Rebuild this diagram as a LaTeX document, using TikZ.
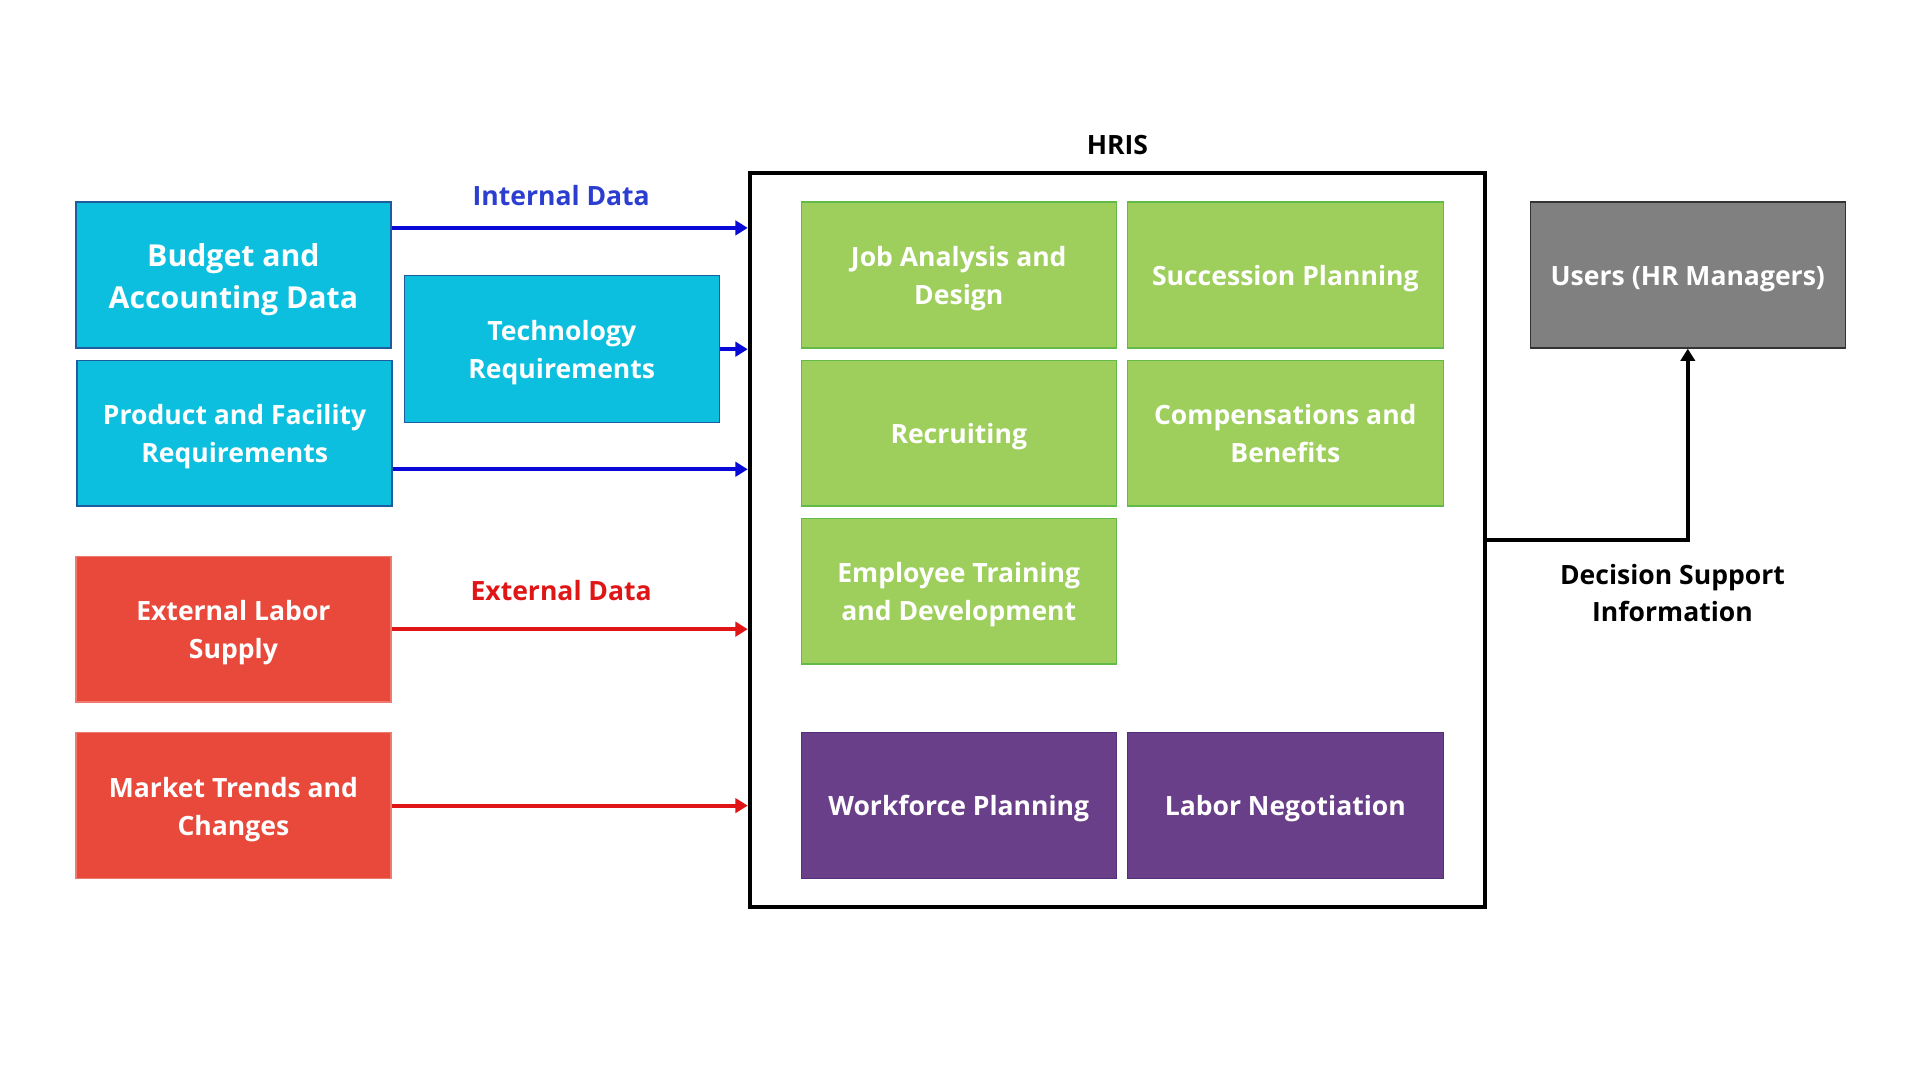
\documentclass[tikz,border=0pt]{standalone}
\usepackage{fontspec}
\setmainfont{Open Sans}
\usetikzlibrary{arrows.meta,calc}
\definecolor{cyanbox}{HTML}{0CBFDF}
\definecolor{cyanedge}{HTML}{1E5C9E}
\definecolor{redbox}{HTML}{E9493B}
\definecolor{rededge}{HTML}{F07A6E}
\definecolor{greenbox}{HTML}{9ECF5C}
\definecolor{greenedge}{HTML}{62BB48}
\definecolor{purplebox}{HTML}{6A3F89}
\definecolor{purpleedge}{HTML}{55307A}
\definecolor{graybox}{HTML}{808080}
\definecolor{grayedge}{HTML}{333333}
\definecolor{inblue}{HTML}{0A0AD8}
\definecolor{inlabel}{HTML}{2B3ED0}
\definecolor{exred}{HTML}{E01515}
\newcommand{\boxstrut}{\rule{0pt}{13.2pt}}
\newcommand{\mlstrut}{\rule{0pt}{13.6pt}}
\tikzset{
  boxbase/.style={minimum width=257*0.6pt, minimum height=119*0.6pt, inner sep=0pt,
    align=center, text=white, font=\fontsize{13pt}{18.6pt}\selectfont\bfseries, line width=0.7pt,
    execute at begin node={\boxstrut}},
  cyanstyle/.style={boxbase, fill=cyanbox, draw=cyanedge},
  redstyle/.style={boxbase, fill=redbox, draw=rededge},
  greenstyle/.style={boxbase, fill=greenbox, draw=greenedge},
  purplestyle/.style={boxbase, fill=purplebox, draw=purpleedge},
  graystyle/.style={boxbase, fill=graybox, draw=grayedge},
  lbl/.style={align=center, font=\fontsize{13pt}{18.6pt}\selectfont\bfseries, inner sep=0pt},
  inarrow/.style={draw=inblue, line width=2pt, -{Triangle[length=6pt,width=7pt]}},
  exarrow/.style={draw=exred, line width=2pt, -{Triangle[length=6pt,width=7pt]}},
  outarrow/.style={draw=black, line width=1.8pt, -{Triangle[length=6pt,width=7pt]}},
}
\begin{document}
\begin{tikzpicture}[x=0.6pt,y=-0.6pt]
\useasboundingbox[fill=white] (0,0) rectangle (1567,881.4);

% HRIS frame
\node[draw=black, line width=2.1pt, minimum width=600*0.6pt, minimum height=599*0.6pt, inner sep=0pt] (hris) at (912,440.5) {};
\node[lbl, text=black] (hrislbl) at (912,118) {HRIS};

% Input boxes
\node[cyanstyle, font=\fontsize{14.8pt}{20.6pt}\selectfont\bfseries] (budget) at (190.5,224.5) {\rule{0pt}{16pt}Budget and\\Accounting Data};
\node[cyanstyle, minimum height=120*0.6pt] (tech) at (458.5,285) {\mlstrut Technology\\Requirements};
\node[cyanstyle] (product) at (191.5,353.5) {\mlstrut Product and Facility\\Requirements};
\node[redstyle] (extlabor) at (190.5,513.5) {\mlstrut External Labor\\Supply};
\node[redstyle] (market) at (190.5,657.5) {\mlstrut Market Trends and\\Changes};

% HRIS modules
\node[greenstyle] (job) at (782.5,224.5) {\mlstrut Job Analysis and\\Design};
\node[greenstyle, minimum width=258*0.6pt] (succ) at (1049,224.5) {Succession Planning};
\node[greenstyle] (recruit) at (782.5,353.5) {Recruiting};
\node[greenstyle, minimum width=258*0.6pt] (comp) at (1049,353.5) {Compensations and\\Benefits};
\node[greenstyle] (training) at (782.5,482.5) {\mlstrut Employee Training\\and Development};
\node[purplestyle] (workforce) at (782.5,657.5) {Workforce Planning};
\node[purplestyle, minimum width=258*0.6pt] (labor) at (1049,657.5) {Labor Negotiation};

% Users
\node[graystyle] (users) at (1377.5,224.5) {Users (HR Managers)};

% Labels
\node[lbl, text=inlabel] (inlbl) at (458,160) {Internal Data};
\node[lbl, text=exred] (exlbl) at (458,482) {External Data};
\node[lbl, text=black] (dsi) at (1365,484) {Decision Support\\Information};

% Connector helper coordinates
\coordinate (yb) at (0,186);
\coordinate (yp) at (0,383);

% Internal arrows
\draw[inarrow] (budget.east |- yb) -- (hris.west |- yb);
\draw[inarrow] (tech.east) -- (tech.east -| hris.west);
\draw[inarrow] (product.east |- yp) -- (hris.west |- yp);

% External arrows
\draw[exarrow] (extlabor.east) -- (extlabor.east -| hris.west);
\draw[exarrow] (market.east) -- (market.east -| hris.west);

% Output arrow
\draw[outarrow] (hris.east) -- (hris.east -| users.south) -- (users.south);
\end{tikzpicture}
\end{document}
